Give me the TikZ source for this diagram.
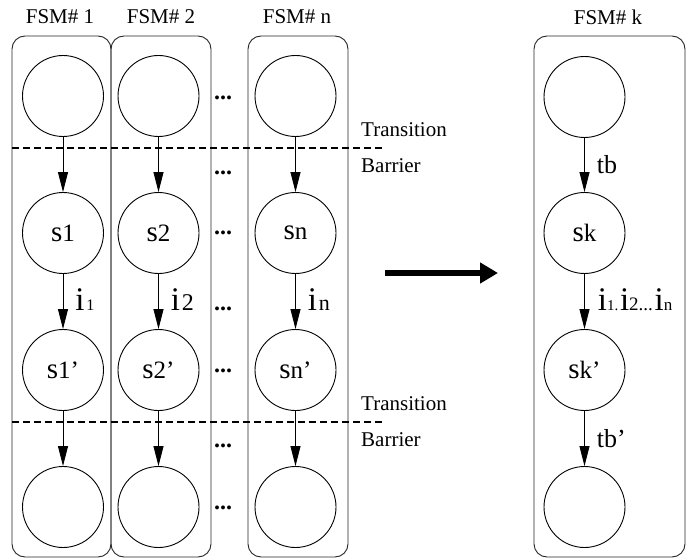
\documentclass[tikz,border=0pt]{standalone}
\usepackage{fontspec}
\setmainfont{Liberation Serif}
\usetikzlibrary{arrows.meta}
\newcommand{\fsz}[1]{\fontsize{#1}{#1}\selectfont}
% state name: large letter followed by a smaller index
\newcommand{\sname}[2]{{\fsz{29}#1}{\fsz{25}#2}}
\begin{document}
\begin{tikzpicture}[x=1pt,y=-1pt,
  fsmbox/.style={draw=black!85, line width=0.9pt, rounded corners=13pt},
  state/.style={circle, draw, line width=0.9pt, minimum size=81pt, inner sep=0pt},
  flow/.style={-{Triangle[length=20pt,width=10pt]}, line width=0.9pt},
  barrier/.style={line width=1.8pt, dash pattern=on 7pt off 4pt},
  title/.style={font=\fsz{21}, inner sep=0pt},
  note/.style={font=\fsz{21}, anchor=west, inner sep=0pt},
  dots/.style={font=\fsz{24}\bfseries, anchor=base, inner sep=0pt},
  elabel/.style={pos=0.5, anchor=base west, inner sep=0pt, xshift=12pt, yshift=-8.5pt}
]
\useasboundingbox (0,0) rectangle (686,559);

% FSM columns
\draw[fsmbox] (12,36) rectangle (111,557);
\draw[fsmbox] (111,36) rectangle (211,557);
\draw[fsmbox] (248,36) rectangle (348,557);
\draw[fsmbox] (534,36) rectangle (685,557);

% titles
\node[title] (t1) at (60,17) {FSM\# 1};
\node[title] (t2) at (161,17) {FSM\# 2};
\node[title] (tn) at (297,17) {FSM\# n};
\node[title] (tk) at (608,17) {FSM\# k};

% states, column 1
\node[state] (a1) at (63,96) {};
\node[state] (a2) at (63,233) {\sname{s}{1}};
\node[state] (a3) at (63,370) {\sname{s}{1'}};
\node[state] (a4) at (63,507) {};
% column 2
\node[state] (b1) at (158.5,96) {};
\node[state] (b2) at (158.5,233) {\sname{s}{2}};
\node[state] (b3) at (158.5,370) {\sname{s}{2'}};
\node[state] (b4) at (158.5,507) {};
% column n
\node[state] (n1) at (295.5,96) {};
\node[state] (n2) at (295.5,233) {\sname{s}{n}};
\node[state] (n3) at (295.5,370) {\sname{s}{n'}};
\node[state] (n4) at (295.5,507) {};
% merged machine k
\node[state] (k1) at (584.5,97) {};
\node[state] (k2) at (584.5,233) {\sname{s}{k}};
\node[state] (k3) at (584.5,370) {\sname{s}{k'}};
\node[state] (k4) at (584.5,507) {};

% transitions
\draw[flow] (a1) -- (a2);
\draw[flow] (a2) -- node[elabel] (l1) {{\fsz{33}i}\,{\fsz{16}1}} (a3);
\draw[flow] (a3) -- (a4);
\draw[flow] (b1) -- (b2);
\draw[flow] (b2) -- node[elabel] (l2) {{\fsz{33}i}\,{\fsz{24}2}} (b3);
\draw[flow] (b3) -- (b4);
\draw[flow] (n1) -- (n2);
\draw[flow] (n2) -- node[elabel] (ln) {{\fsz{33}i}\,{\fsz{22}n}} (n3);
\draw[flow] (n3) -- (n4);

\draw[flow] (k1) -- node[elabel] (lk1) {\fsz{26}tb} (k2);
\draw[flow] (k2) -- node[elabel, xshift=1pt] (lk2)
  {{\fsz{33}i}{\fsz{15}1.}\,{\fsz{33}i}{\fsz{19}2...}\,{\fsz{33}i}{\fsz{17}n}} (k3);
\draw[flow] (k3) -- node[elabel] (lk3) {\fsz{26}tb'} (k4);

% transition barriers
\coordinate (b1L) at (12,148);
\coordinate (b1R) at (385,148);
\coordinate (b2L) at (12,422);
\coordinate (b2R) at (385,422);
\draw[barrier] (b1L) -- (b1R);
\draw[barrier] (b2L) -- (b2R);
\node[note] (tr1) at (361,130) {Transition};
\node[note] (ba1) at (361,166) {Barrier};
\node[note] (tr2) at (361,404) {Transition};
\node[note] (ba2) at (361,440) {Barrier};

% ellipses between columns
\foreach \y [count=\i] in {100,175,235,310,372,447,509}
  \node[dots] (d\i) at (223,\y) {...};

% merge arrow
\coordinate (mL) at (385,273);
\coordinate (mR) at (498,273);
\draw[line width=6pt, -{Triangle[length=18pt,width=20pt]}] (mL) -- (mR);
\end{tikzpicture}
\end{document}
